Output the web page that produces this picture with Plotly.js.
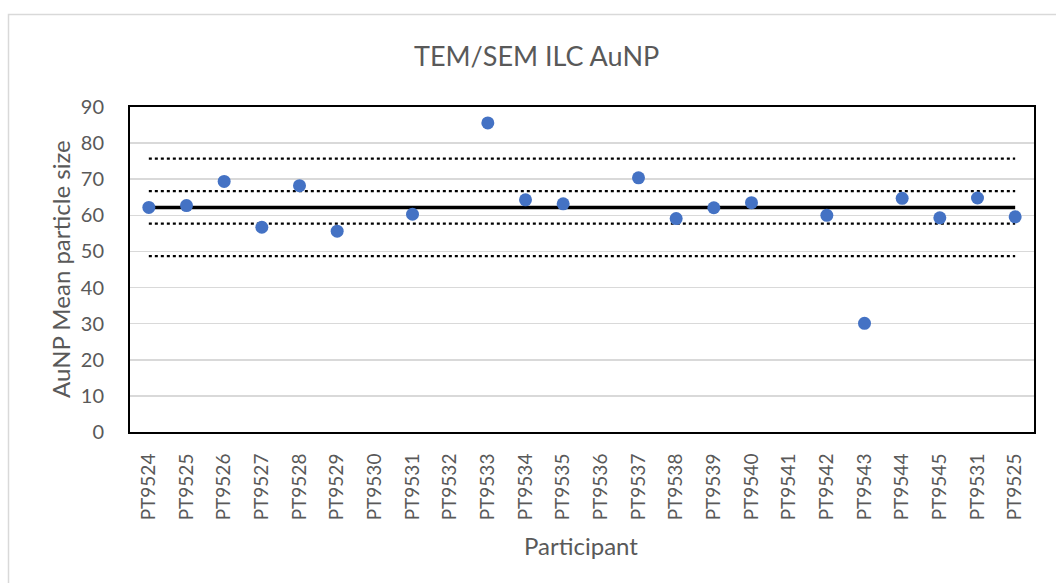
<!DOCTYPE html>
<html>
<head>
<meta charset="utf-8">
<script src="https://cdn.plot.ly/plotly-3.0.1.min.js"></script>
<style>html,body{margin:0;padding:0;background:#fff;}#chart{width:1056px;height:583px;}</style>
</head>
<body>
<div id="chart"></div>
<script>
// Category labels (positions 0..23; labels repeat at the end)
const participants = ["PT9524","PT9525","PT9526","PT9527","PT9528","PT9529","PT9530","PT9531","PT9532","PT9533","PT9534","PT9535","PT9536","PT9537","PT9538","PT9539","PT9540","PT9541","PT9542","PT9543","PT9544","PT9545","PT9531","PT9525"];
// Mean particle size per participant (null = no result)
const meanSize = [62.2,62.7,69.4,56.7,68.2,55.6,null,60.3,null,85.6,64.3,63.2,null,70.4,59.1,62.1,63.5,null,60.0,30.1,64.7,59.3,64.8,59.6];
// Reference lines
const assignedValue = 62.2;
const innerLimits = [57.7, 66.7];
const outerLimits = [48.7, 75.7];

const idx = participants.map((_, i) => i);
const lineX = [0, participants.length - 1];

const traces = [];
outerLimits.concat(innerLimits).forEach(v => {
  traces.push({x: lineX, y: [v, v], mode: 'lines', type: 'scatter',
    line: {color: '#000', width: 2.2, dash: 'dot'}, hoverinfo: 'skip', showlegend: false});
});
traces.push({x: lineX, y: [assignedValue, assignedValue], mode: 'lines', type: 'scatter',
  line: {color: '#000', width: 3.5}, hoverinfo: 'skip', showlegend: false});
traces.push({x: idx, y: meanSize, mode: 'markers', type: 'scatter',
  marker: {color: '#4472C4', size: 13}, showlegend: false, cliponaxis: false});

const L = 130, R = 1034, T = 107, B = 432;
const px = v => (v - L) / (R - L);
const py = v => (B - v) / (B - T);

const layout = {
  width: 1056, height: 583,
  margin: {l: L, r: 1056 - R, t: T, b: 583 - B, pad: 0},
  paper_bgcolor: '#fff', plot_bgcolor: '#fff',
  font: {family: 'Lato, "Open Sans", sans-serif', color: '#595959'},
  showlegend: false,
  xaxis: {
    range: [-0.5, participants.length - 0.5],
    tickvals: idx, ticktext: participants, tickangle: -90,
    tickfont: {size: 19, color: '#595959'},
    showgrid: false, zeroline: false, ticks: '',
    showline: true, linecolor: '#000', linewidth: 2, mirror: true,
    ticklabelstandoff: 12,
    fixedrange: true
  },
  yaxis: {
    range: [0, 90], dtick: 10, tick0: 0,
    tickfont: {size: 20, color: '#595959'},
    showgrid: true, gridcolor: '#d9d9d9', gridwidth: 1.5,
    zeroline: false, ticks: '',
    showline: true, linecolor: '#000', linewidth: 2, mirror: true,
    ticklabelstandoff: 20,
    fixedrange: true
  },
  annotations: [
    {text: 'TEM/SEM ILC AuNP', xref: 'paper', yref: 'paper', x: px(536), y: py(55),
     xanchor: 'center', yanchor: 'middle', showarrow: false, font: {size: 27, color: '#595959'}},
    {text: 'AuNP Mean particle size', xref: 'paper', yref: 'paper', x: px(60), y: py(269),
     xanchor: 'center', yanchor: 'middle', textangle: -90, showarrow: false, font: {size: 24, color: '#595959'}},
    {text: 'Participant', xref: 'paper', yref: 'paper', x: px(581), y: py(545),
     xanchor: 'center', yanchor: 'middle', showarrow: false, font: {size: 24, color: '#595959'}}
  ],
  shapes: [
    {type: 'rect', xref: 'paper', yref: 'paper', x0: px(8.5), x1: px(1070), y0: py(14.5), y1: py(600),
     line: {color: '#d9d9d9', width: 1.5}, fillcolor: 'rgba(0,0,0,0)', layer: 'below'}
  ]
};

Plotly.newPlot('chart', traces, layout, {displayModeBar: false, staticPlot: true});
</script>
</body>
</html>
